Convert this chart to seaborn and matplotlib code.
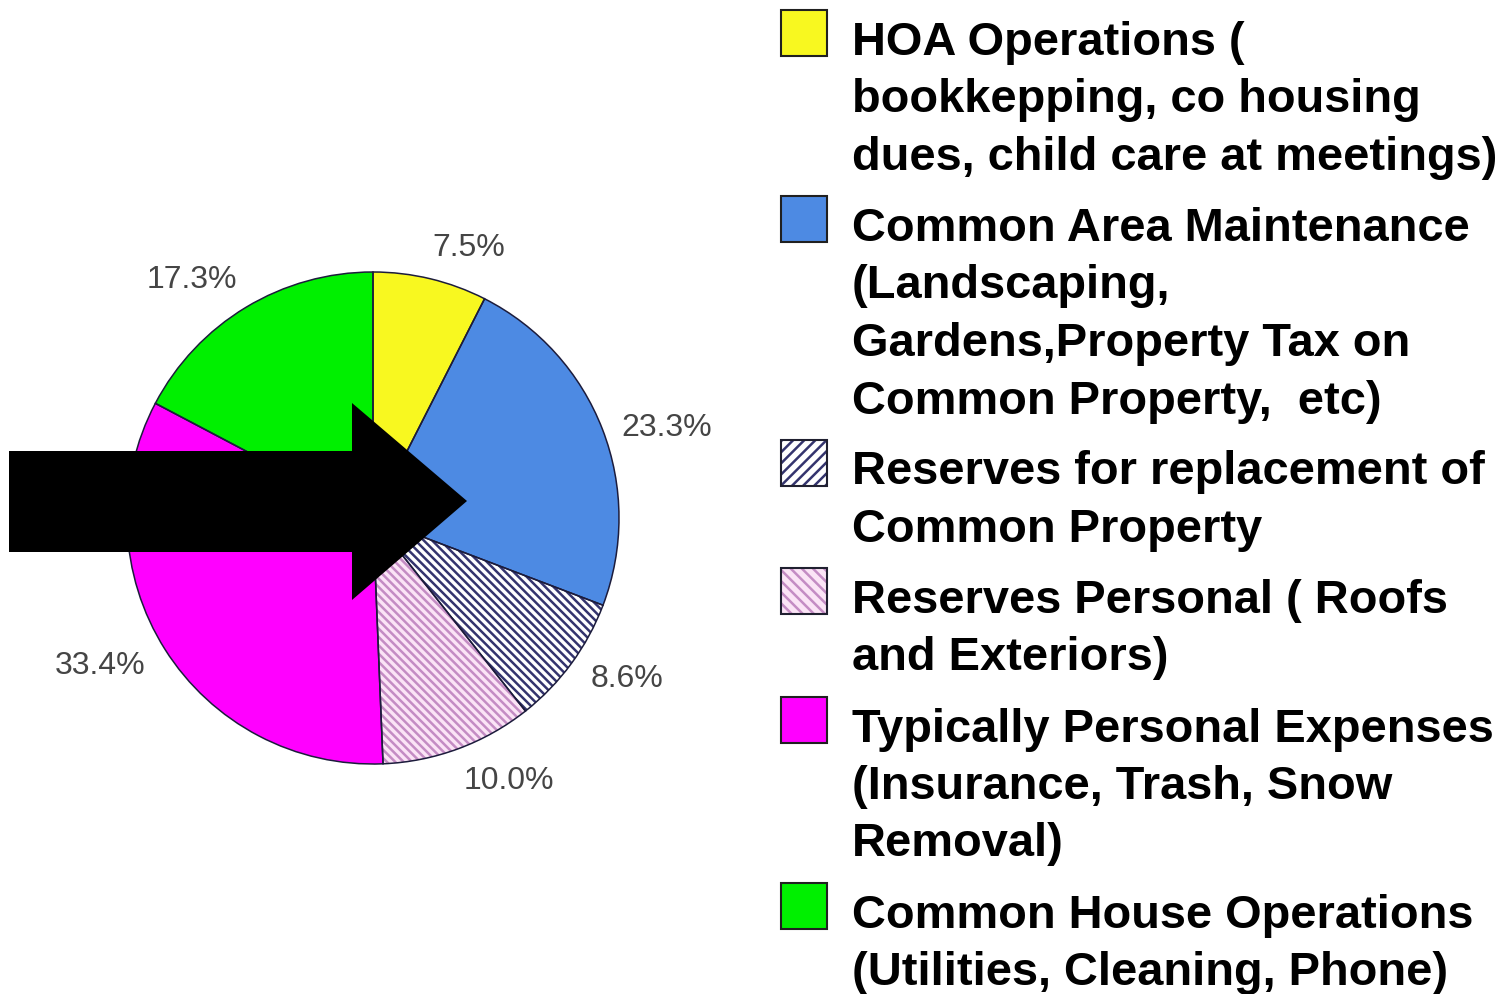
import numpy as np
import matplotlib
matplotlib.use("Agg")
import matplotlib.pyplot as plt
from matplotlib.patches import Rectangle, Polygon
import seaborn as sns

# data (clockwise from 12 o'clock)
categories = ["HOA Operations", "Common Area Maintenance", "Reserves for replacement",
              "Reserves Personal", "Typically Personal Expenses", "Common House Operations"]
shares = [7.5, 23.3, 8.6, 10.0, 33.4, 17.3]
legend_lines = [
    ["HOA Operations (", "bookkepping, co housing", "dues, child care at meetings)"],
    ["Common Area Maintenance", "(Landscaping,", "Gardens,Property Tax on", "Common Property,  etc)"],
    ["Reserves for replacement of", "Common Property"],
    ["Reserves Personal ( Roofs", "and Exteriors)"],
    ["Typically Personal Expenses", "(Insurance, Trash, Snow", "Removal)"],
    ["Common House Operations", "(Utilities, Cleaning, Phone)"],
]
colors = ["#f8f820", "#4d8ae3", "#ffffff", "#fbe4f6", "#ff00ff", "#00f000"]
pie_hatch = [None, None, "\\\\\\\\", "\\\\\\\\", None, None]
legend_hatch = [None, None, "///", "\\\\\\", None, None]
hatch_colors = [None, None, "#34346e", "#c48cc4", None, None]
# small angular nudges (degrees) and radii for the percentage labels
label_nudge = [-6, -4, 4, 7, -4, 6]
label_radius = [1.17, 1.25, 1.22, 1.2, 1.26, 1.22]

sns.set_theme(style="white")
plt.rcParams['font.family'] = ['Liberation Sans', 'DejaVu Sans']
plt.rcParams['hatch.linewidth'] = 1.8

W, H = 1505, 995
fig = plt.figure(figsize=(W / 100, H / 100), dpi=100)
fig.patch.set_facecolor("white")

# pie axes
cx, cy, r = 373, 519, 246
half = 330
ax = fig.add_axes([(cx - half) / W, (H - cy - half) / H, 2 * half / W, 2 * half / H])
wedges, _ = ax.pie(shares, colors=colors, startangle=90, counterclock=False,
                   wedgeprops=dict(linewidth=0))
for w, h, hc in zip(wedges, pie_hatch, hatch_colors):
    if h:
        w.set_hatch(h)
        w.set_edgecolor(hc)
        w.set_linewidth(0)
ax.pie(shares, colors=["none"] * len(shares), startangle=90, counterclock=False,
       wedgeprops=dict(edgecolor="#1c1c3c", linewidth=1.1))

total = sum(shares)
for w, v, dn, rr in zip(wedges, shares, label_nudge, label_radius):
    ang = np.deg2rad((w.theta1 + w.theta2) / 2 + dn)
    ax.text(rr * np.cos(ang), rr * np.sin(ang), f"{v / total * 100:.1f}%",
            ha="center", va="center", fontsize=23, color="#454545")
ax.set_xlim(-half / r, half / r)
ax.set_ylim(-half / r, half / r)
ax.set_aspect("equal")
ax.axis("off")

# overlay in pixel coordinates: arrow and legend
ov = fig.add_axes([0, 0, 1, 1])
ov.set_xlim(0, W)
ov.set_ylim(H, 0)
ov.axis("off")
ov.patch.set_alpha(0)

arrow = Polygon([(9, 452), (352, 452), (352, 404), (467, 502), (352, 601), (352, 553), (9, 553)],
                closed=True, facecolor="black", edgecolor="none")
ov.add_patch(arrow)

y = 55
for lines, c, h, hc in zip(legend_lines, colors, legend_hatch, hatch_colors):
    if h:
        ov.add_patch(Rectangle((781, y - 44), 46, 46, facecolor=c, hatch=h,
                               edgecolor=hc, linewidth=0))
        ov.add_patch(Rectangle((781, y - 44), 46, 46, facecolor="none",
                               edgecolor="#202030", linewidth=1.5))
    else:
        ov.add_patch(Rectangle((781, y - 44), 46, 46, facecolor=c,
                               edgecolor="#202020", linewidth=1.5))
    for i, line in enumerate(lines):
        ov.text(852, y + i * 57.5, line, va="baseline", ha="left",
                fontsize=33.8, fontweight="bold", color="black")
    y += (len(lines) - 1) * 57.5 + 71

fig.savefig("out.png", dpi=100, facecolor="white")
